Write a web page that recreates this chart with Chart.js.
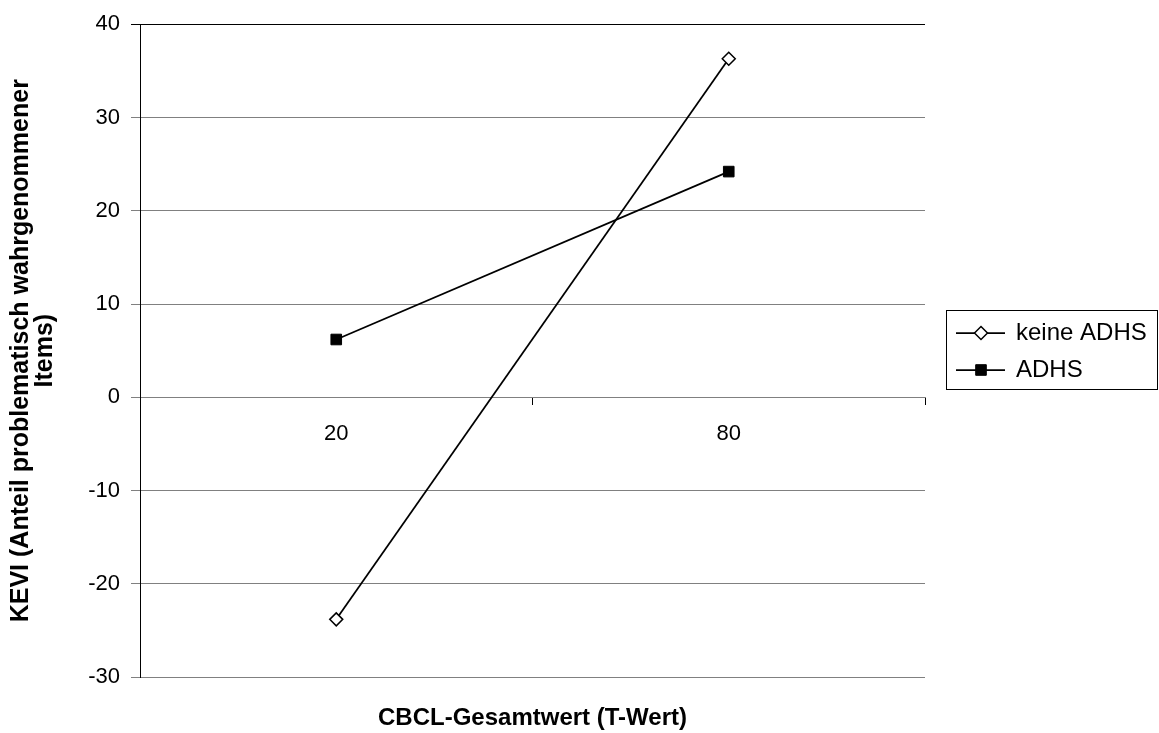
<!DOCTYPE html>
<html>
<head>
<meta charset="utf-8">
<script src="https://cdn.jsdelivr.net/npm/chart.js@4"></script>
<style>
    html, body { margin: 0; padding: 0; background: #fff; }
    canvas { display: block; }
</style>
</head>
<body>
<canvas id="kevi" width="1159" height="733"></canvas>
<script>
const categories = ['20', '80'];
const keineAdhs = [-23.8, 36.3];
const adhs = [6.2, 24.2];
const yTicks = { min: -30, max: 40, step: 10 };

const FONT = '"Liberation Sans", Arial, sans-serif';

// small path helper for the legend symbols
function drawMarker(ctx, style, r, x, y) {
    ctx.beginPath();
    if (style === 'rectRot') {
        ctx.moveTo(x, y - r);
        ctx.lineTo(x + r, y);
        ctx.lineTo(x, y + r);
        ctx.lineTo(x - r, y);
        ctx.closePath();
    } else {
        const s = Math.SQRT1_2 * r;
        ctx.rect(x - s, y - s, 2 * s, 2 * s);
    }
    ctx.fill();
    ctx.stroke();
}

const boxedLegend = {
    id: 'boxedLegend',
    afterDraw(chart) {
        const ctx = chart.ctx;
        ctx.save();
        ctx.strokeStyle = '#000';
        ctx.lineWidth = 1;
        ctx.strokeRect(946.5, 310.5, 211, 79);

        chart.data.datasets.forEach((ds, i) => {
            const y = 333 + i * 37;
            ctx.strokeStyle = ds.borderColor;
            ctx.lineWidth = ds.borderWidth;
            ctx.beginPath();
            ctx.moveTo(956, y);
            ctx.lineTo(1005, y);
            ctx.stroke();

            ctx.fillStyle = ds.pointBackgroundColor;
            ctx.lineWidth = ds.pointBorderWidth;
            drawMarker(ctx, ds.pointStyle, ds.pointRadius, 981, y);

            ctx.fillStyle = '#000';
            ctx.font = '24px ' + FONT;
            ctx.textBaseline = 'middle';
            ctx.textAlign = 'left';
            ctx.fillText(ds.label, 1016, y);
        });
        ctx.restore();
    }
};

new Chart(document.getElementById('kevi'), {
    type: 'line',
    data: {
        labels: categories,
        datasets: [
            {
                label: 'keine ADHS',
                data: keineAdhs,
                borderColor: '#000',
                borderWidth: 1.75,
                pointStyle: 'rectRot',
                pointRadius: 6.5,
                pointBackgroundColor: '#fff',
                pointBorderColor: '#000',
                pointBorderWidth: 1.5,
                tension: 0
            },
            {
                label: 'ADHS',
                data: adhs,
                borderColor: '#000',
                borderWidth: 1.75,
                pointStyle: 'rect',
                pointRadius: 7.5,
                pointBackgroundColor: '#000',
                pointBorderColor: '#000',
                pointBorderWidth: 1,
                tension: 0
            }
        ]
    },
    options: {
        responsive: false,
        animation: false,
        clip: false,
        layout: { padding: { left: 0, right: 234, top: 24, bottom: 0 } },
        plugins: {
            legend: { display: false },
            tooltip: { enabled: false },
            title: {
                display: true,
                position: 'bottom',
                fullSize: false,
                text: 'CBCL-Gesamtwert (T-Wert)',
                color: '#000',
                font: { family: FONT, size: 24, weight: 'bold', lineHeight: 1.2 },
                padding: { top: 27, bottom: 0 }
            }
        },
        scales: {
            x: {
                type: 'category',
                position: { y: 0 },
                offset: true,
                grid: {
                    offset: true,
                    drawOnChartArea: false,
                    drawTicks: true,
                    tickLength: 7,
                    color: '#000'
                },
                border: { display: true, color: '#808080', width: 1 },
                ticks: {
                    color: '#000',
                    padding: 16,
                    font: { family: FONT, size: 22 }
                }
            },
            y: {
                type: 'linear',
                min: yTicks.min,
                max: yTicks.max,
                afterFit: (scale) => { scale.width = 140; },
                ticks: {
                    stepSize: yTicks.step,
                    color: '#000',
                    padding: 11,
                    font: { family: FONT, size: 22 }
                },
                grid: {
                    color: (c) => (c.tick && c.tick.value === yTicks.max ? '#000' : '#808080'),
                    lineWidth: 1,
                    tickLength: 9
                },
                border: { display: true, color: '#000', width: 1 },
                title: {
                    display: true,
                    text: ['KEVI (Anteil problematisch wahrgenommener', 'Items)'],
                    color: '#000',
                    font: { family: FONT, size: 25, weight: 'bold', lineHeight: 0.95 },
                    padding: { top: 9, bottom: 0 }
                }
            }
        }
    },
    plugins: [boxedLegend]
});
</script>
</body>
</html>
